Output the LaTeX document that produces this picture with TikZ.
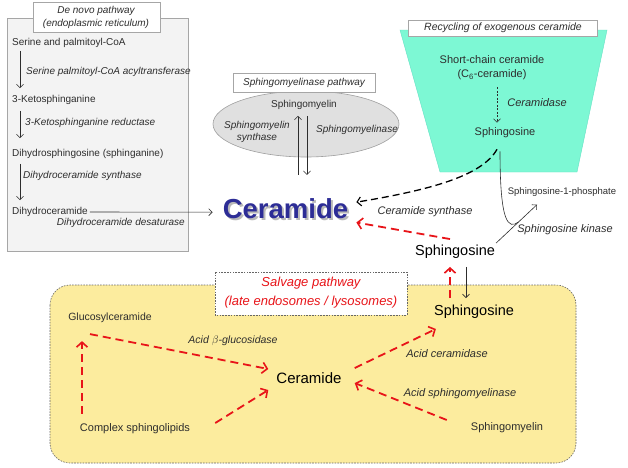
\documentclass[tikz,border=0pt]{standalone}
\usepackage{fontspec}
\setmainfont{Liberation Sans}
\usetikzlibrary{arrows.meta,calc}
\definecolor{cerblue}{RGB}{45,45,150}
\definecolor{sred}{RGB}{232,20,25}
\definecolor{aqua}{RGB}{125,248,212}
\definecolor{syellow}{RGB}{252,236,158}
\definecolor{boxgray}{RGB}{243,243,243}
\definecolor{elgray}{RGB}{224,224,224}
\definecolor{ink}{RGB}{45,45,45}
\tikzset{
  lbl/.style={inner sep=0pt, text=ink, font=\fontsize{10}{12}\selectfont},
  lbls/.style={inner sep=0pt, text=ink, font=\fontsize{11}{13}\selectfont},
  lblb/.style={inner sep=0pt, text=black, font=\fontsize{14.5}{17}\selectfont},
  enz/.style={inner sep=0pt, text=ink, font=\fontsize{10}{12}\selectfont\itshape},
  enzs/.style={inner sep=0pt, text=ink, font=\fontsize{11}{13}\selectfont\itshape},
  titlebox/.style={draw=gray!70, fill=white, line width=0.6pt},
  arr/.style={draw=ink, line width=0.6pt, -{Straight Barb[length=3.5pt,width=7pt]}},
  redarr/.style={draw=sred, line width=1.8pt, dash pattern=on 8pt off 5pt, -{Straight Barb[length=5pt,width=11pt,line width=1.6pt]}},
  blkdash/.style={draw=black, line width=1.3pt, dash pattern=on 7pt off 4pt, -{Straight Barb[length=4pt,width=9pt,line width=1.1pt]}},
  dotarr/.style={draw=ink, line width=0.6pt, dash pattern=on 2pt off 1.5pt, -{Straight Barb[length=3.5pt,width=7pt]}},
  bigcer/.style={inner sep=0pt, anchor=base, font=\fontsize{27.5}{30}\selectfont\bfseries}
}
\begin{document}
\begin{tikzpicture}[x=1pt,y=-1pt]
\useasboundingbox[fill=white] (0,0) rectangle (628,467);

% ---------- De novo pathway ----------
\draw[draw=gray!70, fill=boxgray, line width=0.6pt] (7,18) rectangle (188,251);
\draw[titlebox] (33,2) rectangle (160,32);
\node[enz, align=center] (denovo) at (96,17) {De novo pathway\\[1pt](endoplasmic reticulum)};

\node[lbl, anchor=west] (serine) at (12,43) {Serine and palmitoyl-CoA};
\node[lbl, anchor=west] (keto) at (12,100) {3-Ketosphinganine};
\node[lbl, anchor=west] (dhs) at (12,154) {Dihydrosphingosine (sphinganine)};
\node[lbl, anchor=west] (dhc) at (12,212) {Dihydroceramide};
\node[enz, anchor=west] (spt) at (26,72) {Serine palmitoyl-CoA acyltransferase};
\node[enz, anchor=west] (ksr) at (25,123) {3-Ketosphinganine reductase};
\node[enz, anchor=west] (dcs) at (23,176) {Dihydroceramide synthase};
\node[enz, anchor=east] (dcd) at (185,223) {Dihydroceramide desaturase};

\draw[arr] ($(serine.south west)+(8,3)$) -- ($(keto.north west)+(8,-7)$);
\draw[arr] ($(keto.south west)+(8,6)$) -- ($(dhs.north west)+(8,-11)$);
\draw[arr] ($(dhs.south west)+(8,5)$) -- ($(dhc.north west)+(8,-7)$);

% ---------- Sphingomyelinase pathway ----------
\draw[draw=gray!75, fill=elgray, line width=0.6pt] (306,124) ellipse [x radius=93, y radius=33];
\draw[titlebox] (233,73) rectangle (375,92);
\node[enz] (smpath) at (304,82.5) {Sphingomyelinase pathway};
\node[lbl] (sm) at (304,105) {Sphingomyelin};
\node[enz, align=center] (sms) at (257,132) {Sphingomyelin\\synthase};
\node[enz] (smase) at (357,130) {Sphingomyelinase};

% ---------- Ceramide (central) ----------
\node[bigcer, text=gray!55] (cershadow) at (287.5,220) {Ceramide};
\node[bigcer, text=cerblue] (cer) at (285.5,218) {Ceramide};

\draw[arr] ($(cer.north)+(12.5,-23)$) -- ($(sm.south)+(-6,6)$);
\draw[arr] ($(sm.south)+(3,6)$) -- ($(cer.north)+(21.5,-23)$);
\draw[arr] (dhc.east) ++(2,0) -- ($(cer.west)+(-10,4)$);

% ---------- Recycling of exogenous ceramide ----------
\draw[draw=aqua!80!teal, fill=aqua, line width=0.4pt] (400,30) -- (607,30) -- (577,172) -- (440,172) -- cycle;
\draw[titlebox] (408,20) rectangle (597,36);
\node[enz, font=\fontsize{10.5}{12}\selectfont\itshape] (recyc) at (503,28) {Recycling of exogenous ceramide};
\node[lbls] (scc) at (492,60) {Short-chain ceramide};
\node[lbls] (c6) at (492,75) {(C\textsubscript{6}-ceramide)};
\node[lbls] (tsph) at (505,133) {Sphingosine};
\node[enzs] (cdase) at (537,103) {Ceramidase};
\draw[dotarr] ($(c6.south)+(5,7)$) -- ($(tsph.north)+(-8,-5)$);

% ---------- Sphingosine (middle) ----------
\node[lblb] (msph) at (455,252) {Sphingosine};
\node[enzs] (cersyn) at (425,212) {Ceramide synthase};
\draw[blkdash] ($(tsph.south)+(-8,11)$) .. controls (482,176) and (430,190) .. ($(cer.east)+(8,-6)$);
\draw[redarr] ($(msph.north)+(-5,-6)$) -- ($(cer.south east)+(8,4)$);

\node[lbl, font=\fontsize{9.5}{11}\selectfont] (s1p) at (562,192) {Sphingosine-1-phosphate};
\node[enzs] (sk) at (565,230) {Sphingosine kinase};
\draw[arr] ($(msph.north east)+(1,-2)$) -- ($(s1p.south)+(-25,8)$);
\coordinate (kjoin) at ($($(msph.north east)+(1,-2)$)!0.55!($(s1p.south)+(-25,8)$)$);
\draw[draw=ink, line width=0.6pt] ($(tsph.south)+(-5,13)$) .. controls (500,222) and (508,230) .. (kjoin);

% ---------- Salvage pathway ----------
\draw[draw=gray!80!black, fill=syellow, line width=0.6pt, dash pattern=on 1.6pt off 1.2pt, rounded corners=20pt] (50,285) rectangle (576,463);
\draw[draw=gray!80!black, fill=white, line width=0.6pt, dash pattern=on 1.6pt off 1.2pt] (215,272) rectangle (407,315);
\node[inner sep=0pt, text=sred, font=\fontsize{13}{15}\selectfont\itshape, align=center] (salv) at (311,292.5) {Salvage pathway\\[4pt](late endosomes / lysosomes)};

\node[lblb] (bsph) at (474,312) {Sphingosine};
\node[lblb, font=\fontsize{15}{17}\selectfont] (bcer) at (309,378) {Ceramide};
\node[lbls, font=\fontsize{10.5}{12}\selectfont] (gluc) at (110,318) {Glucosylceramide};
\node[lbls] (compl) at (135,429) {Complex sphingolipids};
\node[lbls] (bsm) at (507,428) {Sphingomyelin};
\node[enz, font=\fontsize{10.5}{12}\selectfont\itshape] (agluc) at (233,341) {Acid $\beta$-glucosidase};
\node[enzs] (acdase) at (447,354) {Acid ceramidase};
\node[enzs] (asmase) at (460,394) {Acid sphingomyelinase};

\draw[redarr] ($(gluc.south)+(-20,11)$) -- ($(bcer.west)+(-8,-9)$);
\draw[redarr] ($(compl.north)+(-53,-10)$) -- ($(gluc.south)+(-28,18)$);
\draw[redarr] ($(compl.east)+(25,-6)$) -- ($(bcer.west)+(-8,12)$);
\draw[redarr] ($(bcer.east)+(13,-10)$) -- ($(bsph.south west)+(2,10)$);
\draw[redarr] ($(bsm.west)+(-24,-8)$) -- ($(bcer.east)+(13,5)$);

\draw[redarr] ($(msph.south |- bsph.north)+(-5,-7)$) -- ($(msph.south)+(-5,8)$);
\draw[arr] ($(msph.south)+(11,8)$) -- ($(msph.south |- bsph.north)+(11,-7)$);
\end{tikzpicture}
\end{document}
